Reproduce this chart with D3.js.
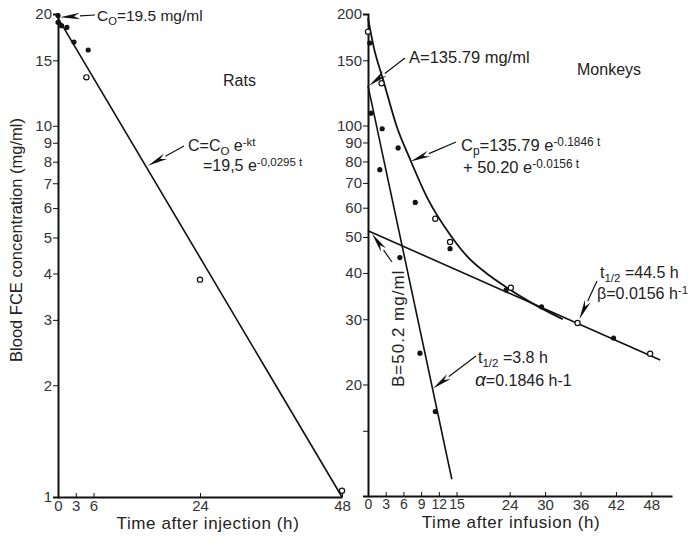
<!DOCTYPE html>
<html>
<head>
<meta charset="utf-8">
<script src="https://cdn.jsdelivr.net/npm/d3@7"></script>
<style>
body { margin: 0; background: #fff; }
text { font-family: "Liberation Sans", Arial, sans-serif; fill: #222; }
.axis path, .axis line { stroke: #111; }
</style>
</head>
<body>
<div class="container"></div>
<script>
// rats: observed points + fitted line
var ratTime = [0, 0, 0.6, 1.5, 2.7, 4.8, 5.1, 24, 48];
var ratConc = [19.8, 19.0, 18.6, 18.4, 16.8, 13.5, 16.0, 3.85, 1.04];
var ratOpen = [0, 0, 0, 0, 0, 1, 0, 1, 1];
var ratFitTime = [0, 48];
var ratFitConc = [19.5, 1.0];

// monkeys: observed points, residuals, fitted curve and the two phase lines
var monkeyTime = [0, 0.3, 2.3, 2.4, 5.1, 8, 11.4, 13.9, 13.9, 23.4, 24.2, 29.4, 35.5, 41.6, 47.8];
var monkeyConc = [179, 167, 130, 98, 87, 62, 56, 48.5, 46.5, 36, 36.5, 32.4, 29.3, 26.7, 24.2];
var monkeyOpen = [1, 0, 1, 0, 0, 0, 1, 1, 0, 0, 1, 0, 1, 0, 1];
var residTime = [0.5, 2, 5.4, 8.8, 11.4];
var residConc = [108, 76, 44, 24.3, 16.9];
var cpTime = [0, 1, 2.5, 5, 7, 10, 14, 17, 20, 23, 28, 33];
var cpConc = [195, 162, 134, 98, 82, 64, 50.5, 44, 40, 37, 33, 30];
var alphaTime = [0, 14.2];
var alphaConc = [128, 11.1];
var betaTime = [0, 49.5];
var betaConc = [52, 23.3];

var ratTicksY = [1, 2, 3, 4, 5, 6, 7, 8, 9, 10, 15, 20];
var ratTicksX = [0, 3, 6, 24, 48];
var monkeyTicksY = [15, 20, 30, 40, 50, 60, 70, 80, 90, 100, 150, 200];
var monkeyTicksX = [0, 3, 6, 9, 12, 15, 24, 30, 36, 42, 48];

var W = 695, H = 549;
var svg = d3.select(".container").append("svg")
  .attr("width", W).attr("height", H);

var xL = d3.scaleLinear().domain([0, 48]).range([58, 342]);
var yL = d3.scaleLog().domain([1, 20]).range([497, 14]);
var xR = d3.scaleLinear().domain([0, 51.5]).range([368, 672]);
var yR = d3.scaleLog().domain([10, 200]).range([496, 14]);

function zip(a, b) { return a.map(function(v, i) { return [v, b[i]]; }); }

function drawAxes(x, y, tx, ty, labelY) {
  var ax = svg.append("g").attr("class", "axis")
    .attr("transform", "translate(0," + y.range()[0] + ")")
    .call(d3.axisBottom(x).tickValues(tx).tickSizeInner(-4).tickSizeOuter(0).tickPadding(3).tickFormat(d3.format("d")));
  var ay = svg.append("g").attr("class", "axis")
    .attr("transform", "translate(" + x.range()[0] + ",0)")
    .call(d3.axisLeft(y).tickValues(ty).tickSize(5).tickPadding(1)
      .tickFormat(function(d) { return labelY(d) ? d : ""; }));
  [ax, ay].forEach(function(a) {
    a.select(".domain").attr("stroke-width", 2);
    a.selectAll("text").style("font-size", "15px").style("fill", "#333");
  });
  return ax;
}

var axL = drawAxes(xL, yL, ratTicksX, ratTicksY, function() { return true; });
var axR = drawAxes(xR, yR, monkeyTicksX, monkeyTicksY, function(d) { return d !== 15; });
// crowded labels near 0..15 are a little smaller
axR.selectAll("text").filter(function(d) { return d <= 15; }).style("font-size", "14px");

function lineThrough(x, y, curve) {
  return d3.line().x(function(d) { return x(d[0]); }).y(function(d) { return y(d[1]); })
    .curve(curve || d3.curveLinear);
}

svg.append("path").datum(zip(ratFitTime, ratFitConc))
  .attr("d", lineThrough(xL, yL)).attr("fill", "none").attr("stroke", "#111").attr("stroke-width", 1.6);
svg.append("path").datum(zip(alphaTime, alphaConc))
  .attr("d", lineThrough(xR, yR)).attr("fill", "none").attr("stroke", "#111").attr("stroke-width", 1.6);
svg.append("path").datum(zip(betaTime, betaConc))
  .attr("d", lineThrough(xR, yR)).attr("fill", "none").attr("stroke", "#111").attr("stroke-width", 1.6);
svg.append("path").datum(zip(cpTime, cpConc))
  .attr("d", lineThrough(xR, yR, d3.curveMonotoneX)).attr("fill", "none").attr("stroke", "#111").attr("stroke-width", 1.8);

function dots(x, y, t, c, open) {
  svg.append("g").selectAll("circle").data(zip(t, c)).enter().append("circle")
    .attr("cx", function(d) { return x(d[0]); })
    .attr("cy", function(d) { return y(d[1]); })
    .attr("r", function(d, i) { return open && open[i] ? 2.6 : 2; })
    .attr("fill", function(d, i) { return open && open[i] ? "#fff" : "#111"; })
    .attr("stroke", "#111").attr("stroke-width", 1.2);
}
dots(xL, yL, ratTime, ratConc, ratOpen);
dots(xR, yR, monkeyTime, monkeyConc, monkeyOpen);
dots(xR, yR, residTime, residConc, null);

// long narrow arrow, tail -> tip
function arrow(x1, y1, x2, y2) {
  var dx = x2 - x1, dy = y2 - y1, len = Math.sqrt(dx * dx + dy * dy);
  var ux = dx / len, uy = dy / len, hl = 20, hw = 3.2;
  var bx = x2 - ux * hl, by = y2 - uy * hl;
  svg.append("line").attr("x1", x1).attr("y1", y1).attr("x2", bx).attr("y2", by)
    .attr("stroke", "#111").attr("stroke-width", 1.2);
  svg.append("path")
    .attr("d", "M" + x2 + "," + y2 + "L" + (bx - uy * hw) + "," + (by + ux * hw) +
      "L" + (x2 - ux * hl * 0.7) + "," + (y2 - uy * hl * 0.7) +
      "L" + (bx + uy * hw) + "," + (by - ux * hw) + "Z")
    .attr("fill", "#111");
}

// rich text: parts = [text, kind] where kind is "", "sub" or "sup"
function label(x, y, parts, size, rotate) {
  size = size || 16;
  var t = svg.append("text").attr("x", x).attr("y", y).style("font-size", size + "px");
  if (rotate) t.attr("transform", "rotate(-90," + x + "," + y + ")");
  var shift = 0;
  parts.forEach(function(p) {
    var s = t.append("tspan").text(p[0]);
    var want = p[1] === "sub" ? 4 : p[1] === "sup" ? -5 : 0;
    s.attr("dy", want - shift);
    shift = want;
    if (p[1]) s.style("font-size", (size * 0.72) + "px");
    if (p[2]) s.style("font-style", "italic").style("font-size", (size + 3) + "px");
  });
  return t;
}

// left panel annotations
arrow(95, 15, xL(0) + 2, yL(19.6));
label(97, 21, [["C", ""], ["O", "sub"], ["=19.5 mg/ml", ""]], 15.5);
label(223, 86, [["Rats", ""]]);
arrow(184, 146, xL(15.2), yL(7.8));
label(188, 151, [["C=C", ""], ["O", "sub"], [" e", ""], ["-kt", "sup"]]);
label(203, 171, [["=19,5  e", ""], ["-0,0295 t", "sup"]]);
svg.append("text").attr("transform", "translate(22,240) rotate(-90)")
  .attr("text-anchor", "middle").style("font-size", "16.5px")
  .text("Blood FCE concentration (mg/ml)");
svg.append("text").attr("x", 208).attr("y", 529).attr("text-anchor", "middle")
  .style("font-size", "17px").style("letter-spacing", "0.6px").text("Time after injection (h)");

// right panel annotations
arrow(405, 58, xR(0) + 1, yR(128));
label(409, 63, [["A=135.79 mg/ml", ""]], 16.5);
label(577, 75, [["Monkeys", ""]]);
arrow(456, 142, xR(7.2), yR(80));
label(461, 151, [["C", ""], ["p", "sub"], ["=135.79  e", ""], ["-0.1846 t", "sup"]], 16.5);
label(463, 173, [["+ 50.20  e", ""], ["-0.0156 t", "sup"]], 16.5);
arrow(597, 281, xR(35.8), yR(30));
label(600, 278, [["t", ""], ["1/2", "sub"], [" =44.5 h", ""]]);
label(597, 299, [["β=0.0156 h", ""], ["-1", "sup"]]);
arrow(476, 356, xR(11), yR(19.5));
label(478, 363, [["t", ""], ["1/2", "sub"], [" =3.8 h", ""]]);
label(475, 386, [["α", "", 1], ["=0.1846 h-1", ""]]);
arrow(392, 262, xR(0) + 4, yR(51));
svg.append("text").attr("transform", "translate(404,387) rotate(-90)")
  .style("font-size", "17px").style("letter-spacing", "1px").text("B=50.2 mg/ml");
svg.append("text").attr("x", 511).attr("y", 528).attr("text-anchor", "middle")
  .style("font-size", "17px").style("letter-spacing", "0.6px").text("Time after infusion (h)");
</script>
</body>
</html>
